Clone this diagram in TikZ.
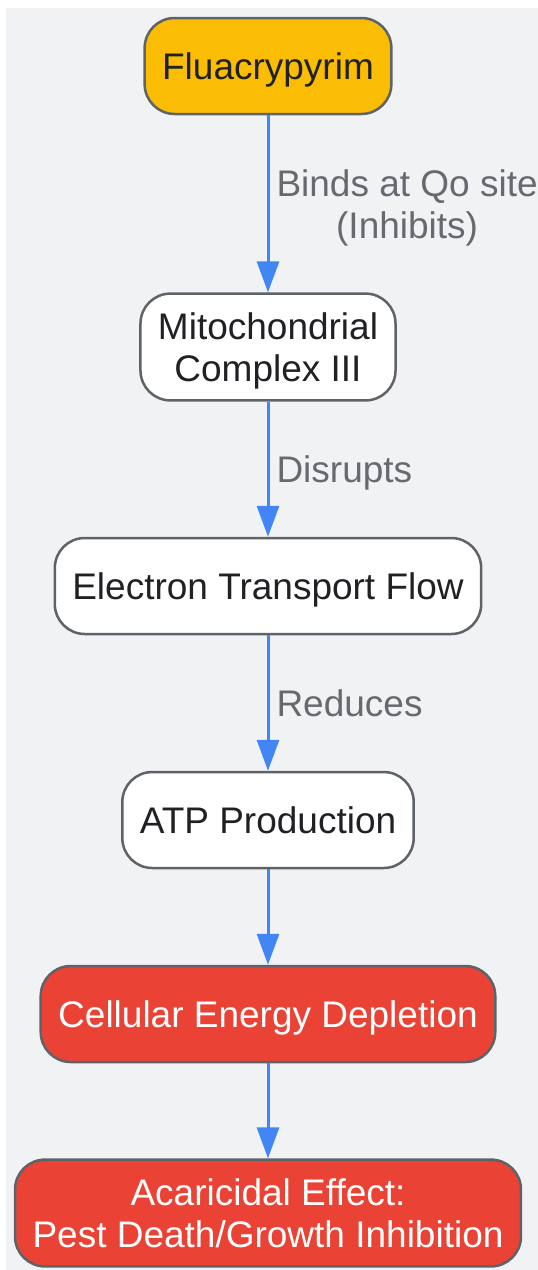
\documentclass[tikz,border=0pt]{standalone}
\usepackage{fontspec}
\setmainfont{Liberation Sans}
\usetikzlibrary{arrows.meta}
\definecolor{bggray}{HTML}{F1F2F4}
\definecolor{boxline}{HTML}{5F6368}
\definecolor{txtdark}{HTML}{202124}
\definecolor{lblgray}{HTML}{666A70}
\definecolor{flowblue}{HTML}{4285F4}
\definecolor{drugyellow}{HTML}{FBBC04}
\definecolor{effectred}{HTML}{EA4335}

\begin{document}
\begin{tikzpicture}[x=1pt, y=-1pt,
box/.style={draw=boxline, line width=2.5pt, rounded corners=30pt, align=center,
inner xsep=17.5pt, inner ysep=19pt, minimum height=96pt, fill=white,
text=txtdark, text depth=0pt, font=\fontsize{37}{42}\selectfont},
drug/.style={box, fill=drugyellow},
effect/.style={box, fill=effectred, text=white},
flow/.style={draw=flowblue, line width=3pt, -{Triangle[length=31pt,width=22pt]}},
lbl/.style={right, align=center, text=lblgray, inner xsep=7pt, text depth=0pt,
font=\fontsize{37}{42}\selectfont}]

% canvas
\useasboundingbox (0,0) rectangle (538,1270);
\fill[bggray] (6,8) rectangle (538,1270);

% mode of action chain
\path
	node[drug] (fluac) at (268,66) {Fluacrypyrim}
	node[box] (cplx) at (268,347) {Mitochondrial\\Complex III}
	node[box] (etf) at (268,586) {Electron Transport Flow}
	node[box] (atp) at (268,820) {ATP Production}
	node[effect] (deplet) at (268,1014) {Cellular Energy Depletion}
	node[effect] (acari) at (268,1213) {Acaricidal Effect:\\Pest Death/Growth Inhibition};

% arrows
\draw[flow] (fluac) -- node[lbl] {Binds at Qo site\\(Inhibits)} (cplx);
\draw[flow] (cplx) -- node[lbl] {Disrupts} (etf);
\draw[flow] (etf) -- node[lbl] {Reduces} (atp);
\draw[flow] (atp) -- (deplet);
\draw[flow] (deplet) -- (acari);
\end{tikzpicture}
\end{document}
